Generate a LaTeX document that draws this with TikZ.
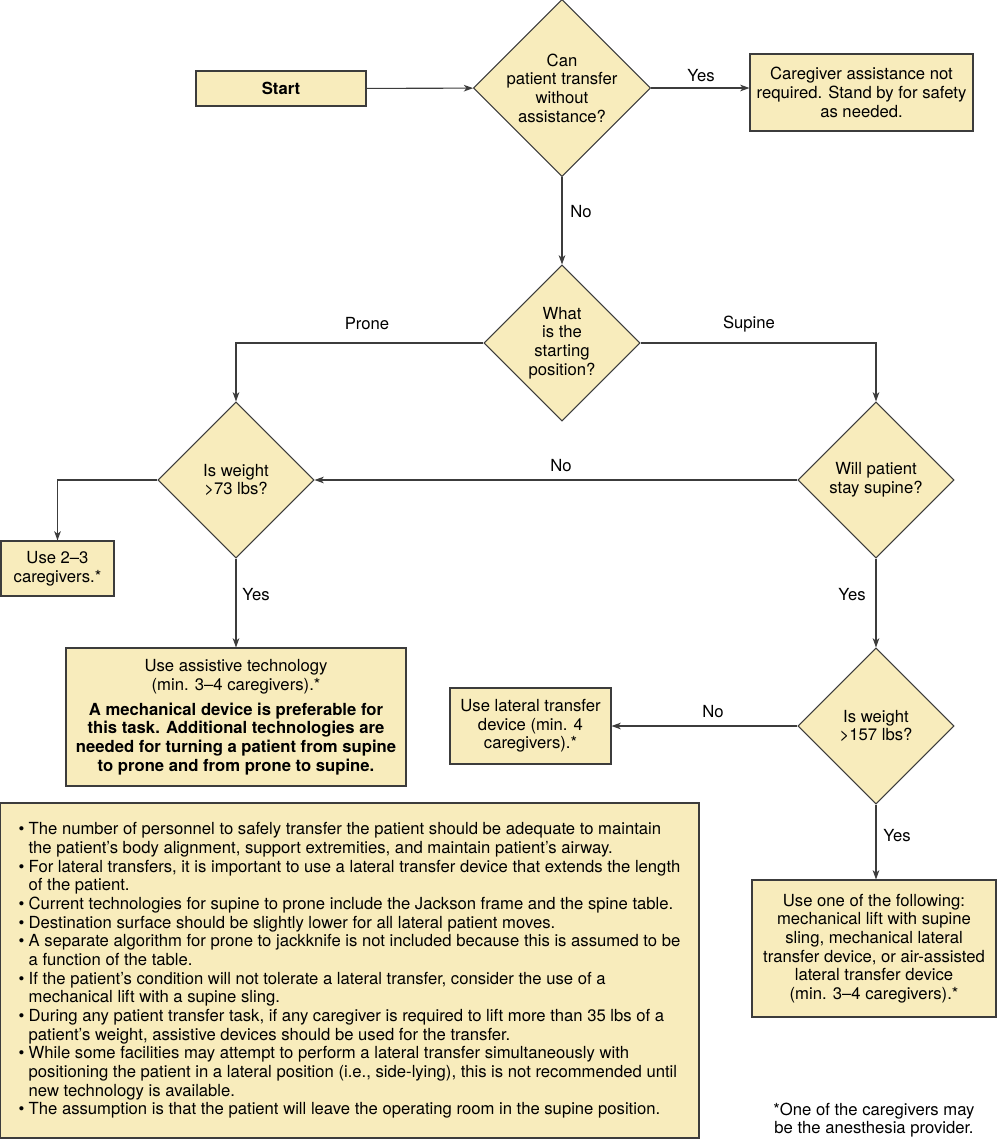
\documentclass[tikz,border=0pt]{standalone}
\usepackage{fontspec}
\setmainfont{TeX Gyre Heros}
\usetikzlibrary{arrows.meta, positioning, shapes.geometric, calc}
\definecolor{boxfill}{HTML}{F8ECBC}
\definecolor{edge}{HTML}{3C3C3C}

\begin{document}
\begin{tikzpicture}[x=0.75pt, y=-0.75pt,
  font=\fontsize{12.5}{14}\selectfont,
  box/.style={draw=edge, fill=boxfill, line width=0.8pt, align=center, inner sep=2pt},
  decision/.style={box, diamond, aspect=1, inner sep=-2pt,
    minimum width=117pt, minimum height=117pt},
  flow/.style={draw=edge, line width=0.8pt, -{Stealth[length=7pt,width=5pt,inset=2pt]}},
  tag/.style={inner sep=0pt}
]
  \useasboundingbox (0,0) rectangle (997,1140);

  % Top row
  \node[box, minimum width=127.5pt, minimum height=26.25pt] (start) at (281,88.5) {\textbf{Start}};
  \node[decision, minimum width=132.75pt, minimum height=132.75pt] (q1) at (562,88)
    {Can\\patient transfer\\without\\assistance?};
  \node[box, minimum width=167.25pt, minimum height=57.75pt] (care) at (861.5,92.5)
    {Caregiver assistance not\\required. Stand by for safety\\as needed.};

  % Starting position
  \node[decision] (q2) at (562,343) {What\\is the\\starting\\position?};
  \node[decision] (q3) at (236,480) {Is weight\\>73 lbs?};
  \node[decision] (q4) at (876,480) {Will patient\\stay supine?};
  \node[decision] (q5) at (876,726) {Is weight\\>157 lbs?};

  % Outcomes
  \node[box, minimum width=84.75pt, minimum height=41.25pt] (use23) at (57.5,568.5)
    {Use 2–3\\caregivers.*};
  \node[box, minimum width=255pt, minimum height=103.5pt] (assist) at (236,717)
    {Use assistive technology\\(min. 3–4 caregivers).*\\[4.7pt]
     \textbf{A mechanical device is preferable for}\\
     \textbf{this task. Additional technologies are}\\
     \textbf{needed for turning a patient from supine}\\
     \textbf{to prone and from prone to supine.}};
  \node[box, minimum width=120.75pt, minimum height=57pt] (lateral) at (530.5,726)
    {Use lateral transfer\\device (min. 4\\caregivers).*};
  \node[box, minimum width=183pt, minimum height=102.75pt] (oneof) at (874,948.5)
    {Use one of the following:\\mechanical lift with supine\\sling, mechanical lateral\\
     transfer device, or air-assisted\\lateral transfer device\\(min. 3–4 caregivers).*};

  % Notes
  \node[box, align=left, minimum width=524.25pt, minimum height=251.25pt] (notes) at (349.5,970.5)
    {\makebox[7.5pt][l]{•}The number of personnel to safely transfer the patient should be adequate to maintain\\
     \hspace*{7.5pt}the patient’s body alignment, support extremities, and maintain patient’s airway.\\
     \makebox[7.5pt][l]{•}For lateral transfers, it is important to use a lateral transfer device that extends the length\\
     \hspace*{7.5pt}of the patient.\\
     \makebox[7.5pt][l]{•}Current technologies for supine to prone include the Jackson frame and the spine table.\\
     \makebox[7.5pt][l]{•}Destination surface should be slightly lower for all lateral patient moves.\\
     \makebox[7.5pt][l]{•}A separate algorithm for prone to jackknife is not included because this is assumed to be\\
     \hspace*{7.5pt}a function of the table.\\
     \makebox[7.5pt][l]{•}If the patient’s condition will not tolerate a lateral transfer, consider the use of a\\
     \hspace*{7.5pt}mechanical lift with a supine sling.\\
     \makebox[7.5pt][l]{•}During any patient transfer task, if any caregiver is required to lift more than 35 lbs of a\\
     \hspace*{7.5pt}patient’s weight, assistive devices should be used for the transfer.\\
     \makebox[7.5pt][l]{•}While some facilities may attempt to perform a lateral transfer simultaneously with\\
     \hspace*{7.5pt}positioning the patient in a lateral position (i.e., side-lying), this is not recommended until\\
     \hspace*{7.5pt}new technology is available.\\
     \makebox[7.5pt][l]{•}The assumption is that the patient will leave the operating room in the supine position.};
  \node[align=center, inner sep=0pt] (foot) at (874,1120)
    {*One of the caregivers may\\be the anesthesia provider.};

  % Connectors
  \draw[flow] (start) -- (q1);
  \draw[flow] (q1.east) -- (q1.east -| care.west);
  \draw[flow] (q1) -- (q2);
  \draw[flow] (q2.west) -| (q3.north);
  \draw[flow] (q2.east) -| (q4.north);
  \draw[flow] (q4.west) -- (q3.east);
  \draw[flow] (q3.west) -| (use23.north);
  \draw[flow] (q3.south) -- (assist.north);
  \draw[flow] (q4.south) -- (q5.north);
  \draw[flow] (q5.west) -- (lateral.east);
  \draw[flow] (q5.south) -- (q5.south |- oneof.north);

  % Branch labels
  \node[tag] (yes1) at (701,76) {Yes};
  \node[tag] (no1) at (581,212) {No};
  \node[tag] (prone) at (367,324) {Prone};
  \node[tag] (supine) at (749,324) {Supine};
  \node[tag] (no2) at (561,466) {No};
  \node[tag] (yes2) at (256,595) {Yes};
  \node[tag] (yes3) at (852,595) {Yes};
  \node[tag] (no3) at (713,712) {No};
  \node[tag] (yes4) at (897,836) {Yes};
\end{tikzpicture}
\end{document}
